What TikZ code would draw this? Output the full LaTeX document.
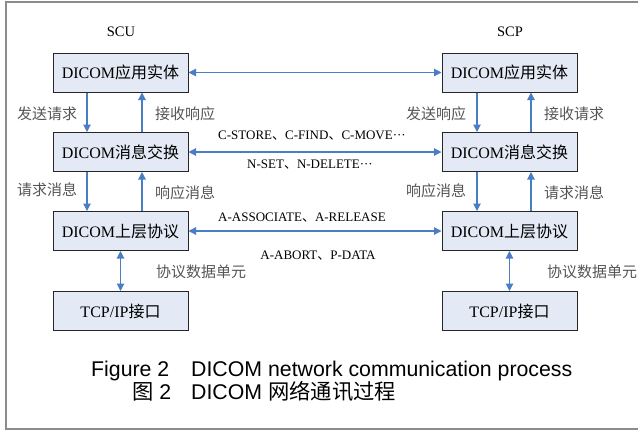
\documentclass[tikz,border=0pt]{standalone}
\usepackage{fontspec}
\setmainfont{Liberation Serif}
\newfontfamily\cjk{Noto Sans CJK SC}
\newfontfamily\arial{Liberation Sans}
\newcommand{\zh}[1]{{\cjk #1}}
\usetikzlibrary{arrows.meta}
\definecolor{arrowblue}{HTML}{4A7EC4}
\definecolor{boxfill}{HTML}{E4EAF5}
\definecolor{labelgray}{HTML}{555555}
\definecolor{framegray}{HTML}{8C8C8C}
\begin{document}
\begin{tikzpicture}[x=1pt,y=-1pt,>={Triangle[length=7.5pt,width=7.5pt]},layer node/.style={rectangle,draw=black!85,fill=boxfill,line width=1pt,minimum width=135pt,minimum height=39pt,inner sep=0pt,font=\fontsize{16}{16}\selectfont},flow/.style={draw=arrowblue,line width=1.1pt},note/.style={font=\fontsize{15}{15}\selectfont\cjk,text=labelgray,inner sep=0pt},service/.style={font=\fontsize{13}{13}\selectfont,inner sep=0pt}]%boxes in pt, y down
\useasboundingbox (0,0) rectangle (638,432);
\draw[framegray,line width=2pt] (640,2) -- (6,2) -- (6,429) -- (640,429);
\node[font=\fontsize{14.5}{14.5}\selectfont] (scu) at (121,32) {SCU};
\node[font=\fontsize{14.5}{14.5}\selectfont] (scp) at (510,32) {SCP};
\begin{scope}[every node/.style={layer node}]
\node (scu1) at (120.5,72.5) {DICOM\zh{应用实体}};
\node (scu2) at (120.5,152) {DICOM\zh{消息交换}};
\node (scu3) at (120.5,231) {DICOM\zh{上层协议}};
\node (scu4) at (120.5,311) {TCP/IP\zh{接口}};
\node (scp1) at (509.5,72.5) {DICOM\zh{应用实体}};
\node (scp2) at (509.5,152) {DICOM\zh{消息交换}};
\node (scp3) at (509.5,231) {DICOM\zh{上层协议}};
\node (scp4) at (509.5,311) {TCP/IP\zh{接口}};
\end{scope}
\begin{scope}[every path/.style={flow}]
\draw[->] ([xshift=-33.5pt]scu1.south) -- ([xshift=-33.5pt]scu2.north);
\draw[<-] ([xshift=21.5pt]scu1.south) -- ([xshift=21.5pt]scu2.north);
\draw[->] ([xshift=-33.5pt]scu2.south) -- ([xshift=-33.5pt]scu3.north);
\draw[<-] ([xshift=21.5pt]scu2.south) -- ([xshift=21.5pt]scu3.north);
\draw[->] ([xshift=-32.5pt]scp1.south) -- ([xshift=-32.5pt]scp2.north);
\draw[<-] ([xshift=21.5pt]scp1.south) -- ([xshift=21.5pt]scp2.north);
\draw[->] ([xshift=-32.5pt]scp2.south) -- ([xshift=-32.5pt]scp3.north);
\draw[<-] ([xshift=21.5pt]scp2.south) -- ([xshift=21.5pt]scp3.north);
\draw[<->] (scu1) -- (scp1);
\draw[<->] (scu2) -- (scp2);
\draw[<->] (scu3) -- (scp3);
\draw[<->] (scu3) -- (scu4);
\draw[<->] (scp3) -- (scp4);
\end{scope}
\begin{scope}[every node/.style={note}]
\node (sendreq) at (47,114) {发送请求};
\node (recvres) at (185,114) {接收响应};
\node (reqmsg1) at (47,190) {请求消息};
\node (resmsg1) at (185,193) {响应消息};
\node (sendres) at (436,114) {发送响应};
\node (recvreq) at (574,114) {接收请求};
\node (resmsg2) at (436,191) {响应消息};
\node (reqmsg2) at (574,193) {请求消息};
\node (pdu1) at (201,272) {协议数据单元};
\node (pdu2) at (592,272) {协议数据单元};
\end{scope}
\begin{scope}[every node/.style={service}]
\node (cmsg) at (312,136) {C-STORE\zh{、}C-FIND\zh{、}C-MOVE\textperiodcentered\textperiodcentered\textperiodcentered};
\node (nmsg) at (310,165) {N-SET\zh{、}N-DELETE\textperiodcentered\textperiodcentered\textperiodcentered};
\node (amsg) at (302,218) {A-ASSOCIATE\zh{、}A-RELEASE};
\node (pmsg) at (318,256) {A-ABORT\zh{、}P-DATA};
\end{scope}
\node[anchor=base west,inner sep=0pt,font=\arial\fontsize{21.3}{21.3}\selectfont] (cap1) at (91,376) {\makebox[100pt][l]{Figure 2}DICOM network communication process};
\node[anchor=base west,inner sep=0pt,font=\arial\fontsize{21.3}{21.3}\selectfont] (cap2) at (91,399) {\makebox[100pt][l]{\hspace{41pt}\zh{图} 2}DICOM \zh{网络通讯过程}};
\end{tikzpicture}
\end{document}
